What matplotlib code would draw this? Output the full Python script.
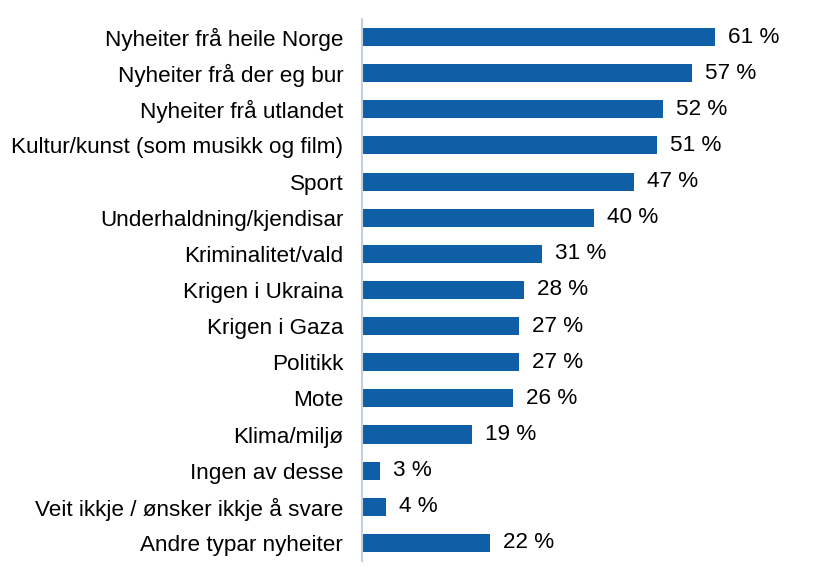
import matplotlib
matplotlib.use("Agg")
import matplotlib.pyplot as plt

# --- DATI ---
categorie = [
    "Nyheiter frå heile Norge",
    "Nyheiter frå der eg bur",
    "Nyheiter frå utlandet",
    "Kultur/kunst (som musikk og film)",
    "Sport",
    "Underhaldning/kjendisar",
    "Kriminalitet/vald",
    "Krigen i Ukraina",
    "Krigen i Gaza",
    "Politikk",
    "Mote",
    "Klima/miljø",
    "Ingen av desse",
    "Veit ikkje / ønsker ikkje å svare",
    "Andre typar nyheiter",
]
valori = [61, 57, 52, 51, 47, 40, 31, 28, 27, 27, 26, 19, 3, 4, 22]

BAR_COLOR = "#0F5FA6"
AXIS_COLOR = "#C3CEE0"
FS = 16.2

plt.rcParams["font.family"] = ["Liberation Sans", "DejaVu Sans"]

fig = plt.figure(figsize=(8.39, 5.70), dpi=100)
ax = fig.add_axes([362 / 839, 9 / 570, 477 / 839, 542 / 570])

pos = list(range(len(categorie)))
ax.barh(pos, valori, height=0.5, color=BAR_COLOR, left=0.15)
ax.set_ylim(len(categorie) - 0.5, -0.5)
ax.set_xlim(0, 477 / 5.77)

ax.set_yticks(pos)
ax.set_yticklabels(categorie, fontsize=FS)
ax.tick_params(axis="y", length=0, pad=13.5)
ax.set_xticks([])

for s in ["top", "right", "bottom"]:
    ax.spines[s].set_visible(False)
ax.spines["left"].set_color(AXIS_COLOR)
ax.spines["left"].set_linewidth(1.5)

# etichette dei valori
for p, v in zip(pos, valori):
    ax.text(v + 2.4, p, f"{v} %", va="center", ha="left", fontsize=FS)

fig.savefig("out.png", dpi=100)
